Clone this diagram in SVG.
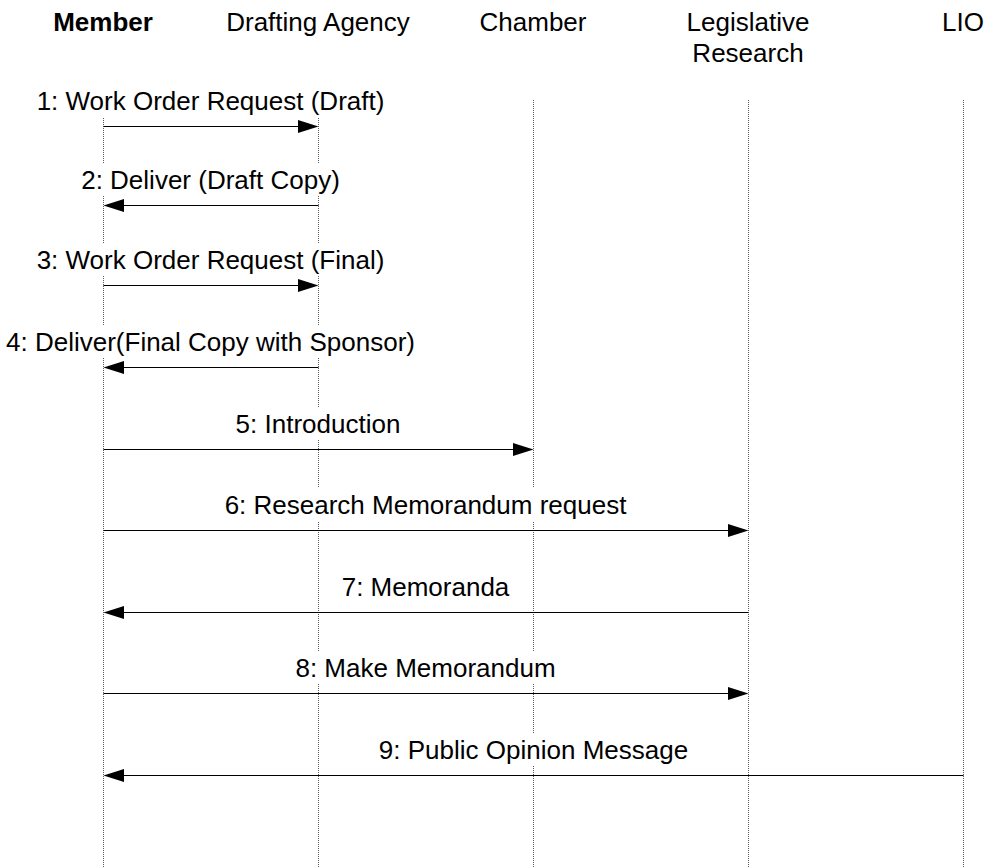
<svg xmlns="http://www.w3.org/2000/svg" width="988" height="867" viewBox="0 0 988 867">
<defs>
<style>
.hd{font-family:"Liberation Sans",Arial,sans-serif;font-size:26px;fill:#000;text-anchor:middle}
.b{font-weight:bold}
.life{stroke:#5a5a5a;stroke-width:1;stroke-dasharray:1 1;fill:none}
.msg{stroke:#000;stroke-width:1;fill:none}
.lbl{font-family:"Liberation Sans",Arial,sans-serif;font-size:26px;fill:#000;text-anchor:middle}
.bg{fill:#fff}
.ah{fill:#000}
</style>
</defs>
<rect width="988" height="867" fill="#fff"/>
<g id="lifelines">
<line class="life" x1="103.5" y1="100" x2="103.5" y2="867"/>
<line class="life" x1="318.5" y1="100" x2="318.5" y2="867"/>
<line class="life" x1="533.5" y1="100" x2="533.5" y2="867"/>
<line class="life" x1="748.5" y1="100" x2="748.5" y2="867"/>
<line class="life" x1="963.5" y1="100" x2="963.5" y2="867"/>
</g>
<g id="member"><text class="hd b" x="103" y="31">Member</text></g>
<g id="drafting-agency"><text class="hd" x="318" y="31">Drafting Agency</text></g>
<g id="chamber"><text class="hd" x="533" y="31">Chamber</text></g>
<g id="legislative-research"><text class="hd" x="748" y="31">Legislative</text><text class="hd" x="748" y="62">Research</text></g>
<g id="lio"><text class="hd" x="963" y="31">LIO</text></g>
<g id="connectors">
<g id="m1"><line class="msg" x1="103.5" y1="126.5" x2="300" y2="126.5"/><polygon class="ah" points="318.5,126.5 298,120 298,133"/></g>
<g id="m2"><line class="msg" x1="122" y1="205.5" x2="318.5" y2="205.5"/><polygon class="ah" points="103.5,205.5 124,199 124,212"/></g>
<g id="m3"><line class="msg" x1="103.5" y1="285.5" x2="300" y2="285.5"/><polygon class="ah" points="318.5,285.5 298,279 298,292"/></g>
<g id="m4"><line class="msg" x1="122" y1="367.5" x2="318.5" y2="367.5"/><polygon class="ah" points="103.5,367.5 124,361 124,374"/></g>
<g id="m5"><line class="msg" x1="103.5" y1="449.5" x2="515" y2="449.5"/><polygon class="ah" points="533.5,449.5 513,443 513,456"/></g>
<g id="m6"><line class="msg" x1="103.5" y1="530.5" x2="730" y2="530.5"/><polygon class="ah" points="748.5,530.5 728,524 728,537"/></g>
<g id="m7"><line class="msg" x1="122" y1="612.5" x2="748.5" y2="612.5"/><polygon class="ah" points="103.5,612.5 124,606 124,619"/></g>
<g id="m8"><line class="msg" x1="103.5" y1="693.5" x2="730" y2="693.5"/><polygon class="ah" points="748.5,693.5 728,687 728,700"/></g>
<g id="m9"><line class="msg" x1="122" y1="775.5" x2="963.5" y2="775.5"/><polygon class="ah" points="103.5,775.5 124,769 124,782"/></g>
</g>
<g id="labels">
<g id="l1"><rect class="bg" x="34" y="84" width="353" height="33"/><text class="lbl" x="210.5" y="110">1: Work Order Request (Draft)</text></g>
<g id="l2"><rect class="bg" x="79" y="163" width="263" height="33"/><text class="lbl" x="210.5" y="189">2: Deliver (Draft Copy)</text></g>
<g id="l3"><rect class="bg" x="34" y="243" width="353" height="33"/><text class="lbl" x="210.5" y="269">3: Work Order Request (Final)</text></g>
<g id="l4"><rect class="bg" x="4" y="325" width="413" height="33"/><text class="lbl" x="210.5" y="351">4: Deliver(Final Copy with Sponsor)</text></g>
<g id="l5"><rect class="bg" x="233" y="407" width="171" height="33"/><text class="lbl" x="318" y="433">5: Introduction</text></g>
<g id="l6"><rect class="bg" x="222" y="488" width="408" height="33"/><text class="lbl" x="425.5" y="514">6: Research Memorandum request</text></g>
<g id="l7"><rect class="bg" x="339" y="570" width="174" height="33"/><text class="lbl" x="425.5" y="596">7: Memoranda</text></g>
<g id="l8"><rect class="bg" x="293" y="651" width="266" height="33"/><text class="lbl" x="425.5" y="677">8: Make Memorandum</text></g>
<g id="l9"><rect class="bg" x="376" y="733" width="315" height="33"/><text class="lbl" x="533.5" y="759">9: Public Opinion Message</text></g>
</g>
</svg>
